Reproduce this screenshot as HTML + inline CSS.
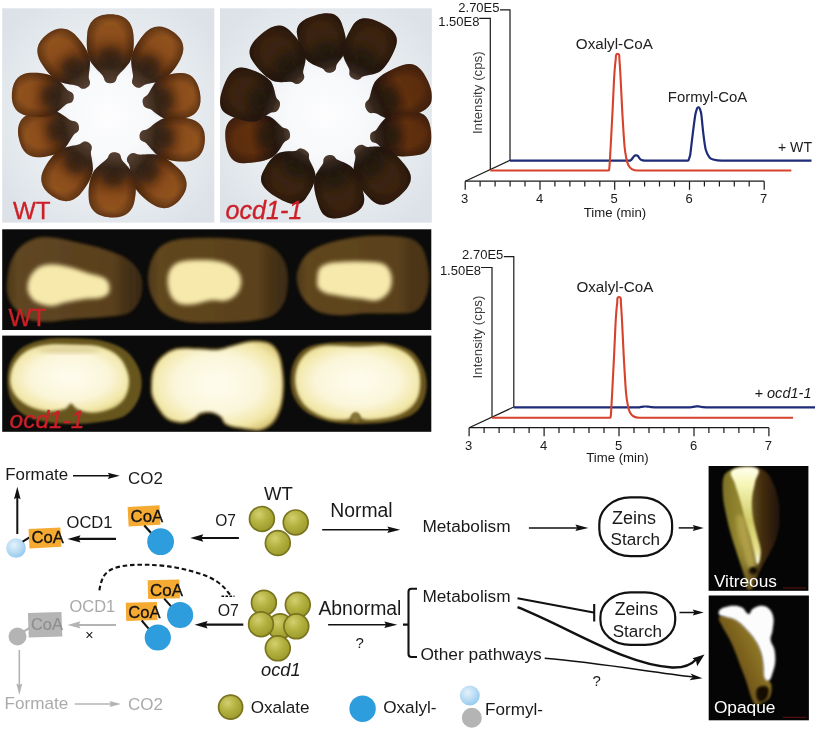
<!DOCTYPE html>
<html><head><meta charset="utf-8"><title>ocd1 figure</title>
<style>
html,body{margin:0;padding:0;background:#fff;}
svg{display:block;font-family:"Liberation Sans", Arial, sans-serif;}
</style></head><body>
<svg width="815" height="730" viewBox="0 0 815 730">
<defs>
<filter id="b1" x="-20%" y="-20%" width="140%" height="140%"><feGaussianBlur stdDeviation="0.9"/></filter>
<filter id="b07" x="-20%" y="-20%" width="140%" height="140%"><feGaussianBlur stdDeviation="0.65"/></filter>
<filter id="b15" x="-20%" y="-20%" width="140%" height="140%"><feGaussianBlur stdDeviation="1.5"/></filter>
<filter id="b2" x="-20%" y="-20%" width="140%" height="140%"><feGaussianBlur stdDeviation="2"/></filter>
<filter id="b3" x="-30%" y="-30%" width="160%" height="160%"><feGaussianBlur stdDeviation="3.5"/></filter>
<filter id="b6" x="-40%" y="-40%" width="180%" height="180%"><feGaussianBlur stdDeviation="7"/></filter>
<radialGradient id="bgA" cx="50%" cy="50%" r="62%"><stop offset="0" stop-color="#fdfdfe"/><stop offset="0.3" stop-color="#f8f9fb"/><stop offset="0.6" stop-color="#e9edf1"/><stop offset="1" stop-color="#dce2e8"/></radialGradient>
<linearGradient id="kWT" x1="0" y1="0" x2="1" y2="0"><stop offset="0" stop-color="#8d7262"/><stop offset="0.1" stop-color="#6a5040"/><stop offset="0.25" stop-color="#4a3220"/><stop offset="0.45" stop-color="#6c3914"/><stop offset="0.7" stop-color="#8c4e1c"/><stop offset="0.9" stop-color="#91531f"/><stop offset="1" stop-color="#7a4018"/></linearGradient>
<linearGradient id="kMU" x1="0" y1="0" x2="1" y2="0"><stop offset="0" stop-color="#84705f"/><stop offset="0.1" stop-color="#4a3a30"/><stop offset="0.25" stop-color="#2a1c12"/><stop offset="0.6" stop-color="#3a2412"/><stop offset="1" stop-color="#3a2010"/></linearGradient>
<linearGradient id="kMU2" x1="0" y1="0" x2="1" y2="0"><stop offset="0" stop-color="#84705f"/><stop offset="0.1" stop-color="#4a3a30"/><stop offset="0.25" stop-color="#301c10"/><stop offset="0.6" stop-color="#60300f"/><stop offset="1" stop-color="#5a2c0e"/></linearGradient>
<radialGradient id="kShade" cx="58%" cy="50%" r="58%"><stop offset="0.5" stop-color="#000" stop-opacity="0"/><stop offset="1" stop-color="#1a0a00" stop-opacity="0.5"/></radialGradient>
<radialGradient id="gOx" cx="38%" cy="32%" r="70%"><stop offset="0" stop-color="#d3d070"/><stop offset="0.5" stop-color="#b3b13f"/><stop offset="1" stop-color="#9c9a2c"/></radialGradient>
<radialGradient id="gLb" cx="40%" cy="35%" r="70%"><stop offset="0" stop-color="#e4f1fb"/><stop offset="0.6" stop-color="#b5daf3"/><stop offset="1" stop-color="#8fc8ee"/></radialGradient>
</defs>
<rect width="815" height="730" fill="#fff"/>

<g id="panelA">
<defs><clipPath id="clA1"><rect x="2.2" y="8.3" width="212.1" height="214.3"/></clipPath><clipPath id="clA2"><rect x="220" y="8.3" width="211.8" height="214.3"/></clipPath></defs>
<rect x="2.2" y="8.3" width="212.1" height="214.3" fill="url(#bgA)"/>
<rect x="220" y="8.3" width="211.8" height="214.3" fill="url(#bgA)"/>
<g clip-path="url(#clA1)"><g filter="url(#b07)">
<g transform="translate(110.3,83.2) rotate(-90.0)"><path d="M0,0 C0.0,-3.3 1.4,-5.6 4.8,-6.3 C9.0,-7.0 11.7,-12.7 20.7,-19.3 C29.0,-23.5 38.7,-24.2 49.7,-23.0 C60.7,-21.9 69.0,-15.5 69.0,-0.0 C69.0,15.5 60.7,21.9 49.7,23.0 C38.7,24.2 29.0,23.5 20.7,19.3 C11.7,12.7 9.0,7.0 4.8,6.3 C1.4,5.6 0.0,3.3 0.0,0.0 Z" fill="url(#kWT)"/><path d="M0,0 C0.0,-3.3 1.4,-5.6 4.8,-6.3 C9.0,-7.0 11.7,-12.7 20.7,-19.3 C29.0,-23.5 38.7,-24.2 49.7,-23.0 C60.7,-21.9 69.0,-15.5 69.0,-0.0 C69.0,15.5 60.7,21.9 49.7,23.0 C38.7,24.2 29.0,23.5 20.7,19.3 C11.7,12.7 9.0,7.0 4.8,6.3 C1.4,5.6 0.0,3.3 0.0,0.0 Z" fill="url(#kShade)"/><ellipse cx="24.8" cy="0" rx="11.7" ry="12.2" fill="#1c120a" opacity="0.55" filter="url(#b3)"/></g>
<g transform="translate(134.9,86.4) rotate(-55.4)"><path d="M0,0 C0.0,-3.2 1.3,-5.4 4.7,-6.1 C8.7,-6.8 11.3,-12.2 20.0,-18.4 C28.0,-22.5 37.3,-23.2 48.0,-22.1 C58.6,-20.9 66.6,-14.9 66.6,-0.0 C66.6,14.9 58.6,20.9 48.0,22.1 C37.3,23.2 28.0,22.5 20.0,18.4 C11.3,12.2 8.7,6.8 4.7,6.1 C1.3,5.4 0.0,3.2 0.0,0.0 Z" fill="url(#kWT)"/><path d="M0,0 C0.0,-3.2 1.3,-5.4 4.7,-6.1 C8.7,-6.8 11.3,-12.2 20.0,-18.4 C28.0,-22.5 37.3,-23.2 48.0,-22.1 C58.6,-20.9 66.6,-14.9 66.6,-0.0 C66.6,14.9 58.6,20.9 48.0,22.1 C37.3,23.2 28.0,22.5 20.0,18.4 C11.3,12.2 8.7,6.8 4.7,6.1 C1.3,5.4 0.0,3.2 0.0,0.0 Z" fill="url(#kShade)"/><ellipse cx="24.0" cy="0" rx="11.3" ry="11.7" fill="#1c120a" opacity="0.55" filter="url(#b3)"/></g>
<g transform="translate(142.8,103.1) rotate(-10.9)"><path d="M0,0 C0.0,-3.2 1.2,-5.5 4.1,-6.2 C7.6,-6.9 9.9,-12.4 17.4,-18.9 C24.4,-23.0 32.5,-23.7 41.8,-22.5 C51.1,-21.4 58.1,-15.2 58.1,-0.0 C58.1,15.2 51.1,21.4 41.8,22.5 C32.5,23.7 24.4,23.0 17.4,18.9 C9.9,12.4 7.6,6.9 4.1,6.2 C1.2,5.5 0.0,3.2 0.0,0.0 Z" fill="url(#kWT)"/><path d="M0,0 C0.0,-3.2 1.2,-5.5 4.1,-6.2 C7.6,-6.9 9.9,-12.4 17.4,-18.9 C24.4,-23.0 32.5,-23.7 41.8,-22.5 C51.1,-21.4 58.1,-15.2 58.1,-0.0 C58.1,15.2 51.1,21.4 41.8,22.5 C32.5,23.7 24.4,23.0 17.4,18.9 C9.9,12.4 7.6,6.9 4.1,6.2 C1.2,5.5 0.0,3.2 0.0,0.0 Z" fill="url(#kShade)"/><ellipse cx="20.9" cy="0" rx="9.9" ry="12.0" fill="#1c120a" opacity="0.55" filter="url(#b3)"/></g>
<g transform="translate(139.6,135.5) rotate(5.5)"><path d="M0,0 C0.0,-3.1 1.3,-5.3 4.6,-5.9 C8.5,-6.6 11.1,-11.9 19.7,-18.0 C27.5,-22.0 36.7,-22.7 47.2,-21.6 C57.7,-20.5 65.5,-14.5 65.5,-0.0 C65.5,14.5 57.7,20.5 47.2,21.6 C36.7,22.7 27.5,22.0 19.7,18.0 C11.1,11.9 8.5,6.6 4.6,5.9 C1.3,5.3 0.0,3.1 0.0,0.0 Z" fill="url(#kWT)"/><path d="M0,0 C0.0,-3.1 1.3,-5.3 4.6,-5.9 C8.5,-6.6 11.1,-11.9 19.7,-18.0 C27.5,-22.0 36.7,-22.7 47.2,-21.6 C57.7,-20.5 65.5,-14.5 65.5,-0.0 C65.5,14.5 57.7,20.5 47.2,21.6 C36.7,22.7 27.5,22.0 19.7,18.0 C11.1,11.9 8.5,6.6 4.6,5.9 C1.3,5.3 0.0,3.1 0.0,0.0 Z" fill="url(#kShade)"/><ellipse cx="23.6" cy="0" rx="11.1" ry="11.4" fill="#1c120a" opacity="0.55" filter="url(#b3)"/></g>
<g transform="translate(128.6,155.4) rotate(40.3)"><path d="M0,0 C0.0,-3.2 1.4,-5.4 4.7,-6.1 C8.8,-6.8 11.5,-12.2 20.3,-18.4 C28.5,-22.5 37.9,-23.2 48.8,-22.1 C59.6,-20.9 67.8,-14.9 67.8,-0.0 C67.8,14.9 59.6,20.9 48.8,22.1 C37.9,23.2 28.5,22.5 20.3,18.4 C11.5,12.2 8.8,6.8 4.7,6.1 C1.4,5.4 0.0,3.2 0.0,0.0 Z" fill="url(#kWT)"/><path d="M0,0 C0.0,-3.2 1.4,-5.4 4.7,-6.1 C8.8,-6.8 11.5,-12.2 20.3,-18.4 C28.5,-22.5 37.9,-23.2 48.8,-22.1 C59.6,-20.9 67.8,-14.9 67.8,-0.0 C67.8,14.9 59.6,20.9 48.8,22.1 C37.9,23.2 28.5,22.5 20.3,18.4 C11.5,12.2 8.8,6.8 4.7,6.1 C1.4,5.4 0.0,3.2 0.0,0.0 Z" fill="url(#kShade)"/><ellipse cx="24.4" cy="0" rx="11.5" ry="11.7" fill="#1c120a" opacity="0.55" filter="url(#b3)"/></g>
<g transform="translate(115.0,152.2) rotate(94.1)"><path d="M0,0 C0.0,-3.3 1.3,-5.6 4.6,-6.3 C8.5,-7.0 11.1,-12.7 19.6,-19.3 C27.5,-23.5 36.6,-24.2 47.1,-23.0 C57.6,-21.9 65.4,-15.5 65.4,-0.0 C65.4,15.5 57.6,21.9 47.1,23.0 C36.6,24.2 27.5,23.5 19.6,19.3 C11.1,12.7 8.5,7.0 4.6,6.3 C1.3,5.6 0.0,3.3 0.0,0.0 Z" fill="url(#kWT)"/><path d="M0,0 C0.0,-3.3 1.3,-5.6 4.6,-6.3 C8.5,-7.0 11.1,-12.7 19.6,-19.3 C27.5,-23.5 36.6,-24.2 47.1,-23.0 C57.6,-21.9 65.4,-15.5 65.4,-0.0 C65.4,15.5 57.6,21.9 47.1,23.0 C36.6,24.2 27.5,23.5 19.6,19.3 C11.1,12.7 8.5,7.0 4.6,6.3 C1.3,5.6 0.0,3.3 0.0,0.0 Z" fill="url(#kShade)"/><ellipse cx="23.5" cy="0" rx="11.1" ry="12.2" fill="#1c120a" opacity="0.55" filter="url(#b3)"/></g>
<g transform="translate(88.9,142.8) rotate(124.7)"><path d="M0,0 C0.0,-3.2 1.3,-5.4 4.5,-6.1 C8.4,-6.8 11.0,-12.2 19.4,-18.4 C27.2,-22.5 36.3,-23.2 46.6,-22.1 C57.0,-20.9 64.8,-14.9 64.8,-0.0 C64.8,14.9 57.0,20.9 46.6,22.1 C36.3,23.2 27.2,22.5 19.4,18.4 C11.0,12.2 8.4,6.8 4.5,6.1 C1.3,5.4 0.0,3.2 0.0,0.0 Z" fill="url(#kWT)"/><path d="M0,0 C0.0,-3.2 1.3,-5.4 4.5,-6.1 C8.4,-6.8 11.0,-12.2 19.4,-18.4 C27.2,-22.5 36.3,-23.2 46.6,-22.1 C57.0,-20.9 64.8,-14.9 64.8,-0.0 C64.8,14.9 57.0,20.9 46.6,22.1 C36.3,23.2 27.2,22.5 19.4,18.4 C11.0,12.2 8.4,6.8 4.5,6.1 C1.3,5.4 0.0,3.2 0.0,0.0 Z" fill="url(#kShade)"/><ellipse cx="23.3" cy="0" rx="11.0" ry="11.7" fill="#1c120a" opacity="0.55" filter="url(#b3)"/></g>
<g transform="translate(78.8,126.1) rotate(168.1)"><path d="M0,0 C0.0,-3.2 1.2,-5.5 4.3,-6.2 C8.0,-6.9 10.4,-12.4 18.4,-18.9 C25.7,-23.0 34.3,-23.7 44.1,-22.5 C53.8,-21.4 61.2,-15.2 61.2,-0.0 C61.2,15.2 53.8,21.4 44.1,22.5 C34.3,23.7 25.7,23.0 18.4,18.9 C10.4,12.4 8.0,6.9 4.3,6.2 C1.2,5.5 0.0,3.2 0.0,0.0 Z" fill="url(#kWT)"/><path d="M0,0 C0.0,-3.2 1.2,-5.5 4.3,-6.2 C8.0,-6.9 10.4,-12.4 18.4,-18.9 C25.7,-23.0 34.3,-23.7 44.1,-22.5 C53.8,-21.4 61.2,-15.2 61.2,-0.0 C61.2,15.2 53.8,21.4 44.1,22.5 C34.3,23.7 25.7,23.0 18.4,18.9 C10.4,12.4 8.0,6.9 4.3,6.2 C1.2,5.5 0.0,3.2 0.0,0.0 Z" fill="url(#kShade)"/><ellipse cx="22.0" cy="0" rx="10.4" ry="12.0" fill="#1c120a" opacity="0.55" filter="url(#b3)"/></g>
<g transform="translate(73.7,97.7) rotate(-175.6)"><path d="M0,0 C0.0,-3.1 1.2,-5.3 4.3,-5.9 C8.1,-6.6 10.5,-11.9 18.6,-18.0 C26.0,-22.0 34.7,-22.7 44.6,-21.6 C54.5,-20.5 62.0,-14.5 62.0,-0.0 C62.0,14.5 54.5,20.5 44.6,21.6 C34.7,22.7 26.0,22.0 18.6,18.0 C10.5,11.9 8.1,6.6 4.3,5.9 C1.2,5.3 0.0,3.1 0.0,0.0 Z" fill="url(#kWT)"/><path d="M0,0 C0.0,-3.1 1.2,-5.3 4.3,-5.9 C8.1,-6.6 10.5,-11.9 18.6,-18.0 C26.0,-22.0 34.7,-22.7 44.6,-21.6 C54.5,-20.5 62.0,-14.5 62.0,-0.0 C62.0,14.5 54.5,20.5 44.6,21.6 C34.7,22.7 26.0,22.0 18.6,18.0 C10.5,11.9 8.1,6.6 4.3,5.9 C1.2,5.3 0.0,3.1 0.0,0.0 Z" fill="url(#kShade)"/><ellipse cx="22.3" cy="0" rx="10.5" ry="11.4" fill="#1c120a" opacity="0.55" filter="url(#b3)"/></g>
<g transform="translate(87.3,87.3) rotate(-126.9)"><path d="M0,0 C0.0,-3.2 1.3,-5.4 4.7,-6.1 C8.7,-6.8 11.3,-12.2 20.0,-18.4 C28.0,-22.5 37.3,-23.2 48.0,-22.1 C58.6,-20.9 66.6,-14.9 66.6,-0.0 C66.6,14.9 58.6,20.9 48.0,22.1 C37.3,23.2 28.0,22.5 20.0,18.4 C11.3,12.2 8.7,6.8 4.7,6.1 C1.3,5.4 0.0,3.2 0.0,0.0 Z" fill="url(#kWT)"/><path d="M0,0 C0.0,-3.2 1.3,-5.4 4.7,-6.1 C8.7,-6.8 11.3,-12.2 20.0,-18.4 C28.0,-22.5 37.3,-23.2 48.0,-22.1 C58.6,-20.9 66.6,-14.9 66.6,-0.0 C66.6,14.9 58.6,20.9 48.0,22.1 C37.3,23.2 28.0,22.5 20.0,18.4 C11.3,12.2 8.7,6.8 4.7,6.1 C1.3,5.4 0.0,3.2 0.0,0.0 Z" fill="url(#kShade)"/><ellipse cx="24.0" cy="0" rx="11.3" ry="11.7" fill="#1c120a" opacity="0.55" filter="url(#b3)"/></g>
</g></g>
<g clip-path="url(#clA2)"><g filter="url(#b07)">
<g transform="translate(331.3,72.5) rotate(-105.4)"><path d="M0,0 C0.0,-3.2 1.2,-5.5 4.2,-6.2 C7.7,-6.9 9.5,-13.8 16.7,-19.3 C23.8,-23.5 34.5,-23.9 45.2,-23.0 C54.7,-22.1 59.5,-15.6 59.5,-0.0 C59.5,15.6 54.7,22.1 45.2,23.0 C34.5,23.9 23.8,23.5 16.7,19.3 C9.5,13.8 7.7,6.9 4.2,6.2 C1.2,5.5 0.0,3.2 0.0,0.0 Z" fill="url(#kMU)"/><path d="M0,0 C0.0,-3.2 1.2,-5.5 4.2,-6.2 C7.7,-6.9 9.5,-13.8 16.7,-19.3 C23.8,-23.5 34.5,-23.9 45.2,-23.0 C54.7,-22.1 59.5,-15.6 59.5,-0.0 C59.5,15.6 54.7,22.1 45.2,23.0 C34.5,23.9 23.8,23.5 16.7,19.3 C9.5,13.8 7.7,6.9 4.2,6.2 C1.2,5.5 0.0,3.2 0.0,0.0 Z" fill="url(#kShade)"/><ellipse cx="21.4" cy="0" rx="10.1" ry="12.0" fill="#1c120a" opacity="0.55" filter="url(#b3)"/></g>
<g transform="translate(353.4,78.8) rotate(-64.0)"><path d="M0,0 C0.0,-3.4 1.2,-5.8 4.4,-6.5 C8.1,-7.2 10.0,-14.4 17.5,-20.2 C25.0,-24.5 36.2,-25.0 47.4,-24.0 C57.4,-23.0 62.4,-16.3 62.4,-0.0 C62.4,16.3 57.4,23.0 47.4,24.0 C36.2,25.0 25.0,24.5 17.5,20.2 C10.0,14.4 8.1,7.2 4.4,6.5 C1.2,5.8 0.0,3.4 0.0,0.0 Z" fill="url(#kMU)"/><path d="M0,0 C0.0,-3.4 1.2,-5.8 4.4,-6.5 C8.1,-7.2 10.0,-14.4 17.5,-20.2 C25.0,-24.5 36.2,-25.0 47.4,-24.0 C57.4,-23.0 62.4,-16.3 62.4,-0.0 C62.4,16.3 57.4,23.0 47.4,24.0 C36.2,25.0 25.0,24.5 17.5,20.2 C10.0,14.4 8.1,7.2 4.4,6.5 C1.2,5.8 0.0,3.4 0.0,0.0 Z" fill="url(#kShade)"/><ellipse cx="22.5" cy="0" rx="10.6" ry="12.5" fill="#1c120a" opacity="0.55" filter="url(#b3)"/></g>
<g transform="translate(366.0,108.7) rotate(-23.8)"><path d="M0,0 C0.0,-3.5 1.4,-6.0 4.7,-6.8 C8.8,-7.5 10.9,-15.0 19.0,-21.0 C27.1,-25.5 39.4,-26.0 51.6,-25.0 C62.4,-24.0 67.8,-17.0 67.8,-0.0 C67.8,17.0 62.4,24.0 51.6,25.0 C39.4,26.0 27.1,25.5 19.0,21.0 C10.9,15.0 8.8,7.5 4.7,6.8 C1.4,6.0 0.0,3.5 0.0,0.0 Z" fill="url(#kMU2)"/><path d="M0,0 C0.0,-3.5 1.4,-6.0 4.7,-6.8 C8.8,-7.5 10.9,-15.0 19.0,-21.0 C27.1,-25.5 39.4,-26.0 51.6,-25.0 C62.4,-24.0 67.8,-17.0 67.8,-0.0 C67.8,17.0 62.4,24.0 51.6,25.0 C39.4,26.0 27.1,25.5 19.0,21.0 C10.9,15.0 8.8,7.5 4.7,6.8 C1.4,6.0 0.0,3.5 0.0,0.0 Z" fill="url(#kShade)"/><ellipse cx="24.4" cy="0" rx="11.5" ry="13.0" fill="#1c120a" opacity="0.55" filter="url(#b3)"/></g>
<g transform="translate(370.1,137.4) rotate(-4.7)"><path d="M0,0 C0.0,-3.0 1.2,-5.2 4.3,-5.8 C8.0,-6.5 9.8,-12.9 17.2,-18.1 C24.5,-21.9 35.6,-22.4 46.6,-21.5 C56.4,-20.6 61.3,-14.6 61.3,-0.0 C61.3,14.6 56.4,20.6 46.6,21.5 C35.6,22.4 24.5,21.9 17.2,18.1 C9.8,12.9 8.0,6.5 4.3,5.8 C1.2,5.2 0.0,3.0 0.0,0.0 Z" fill="url(#kMU2)"/><path d="M0,0 C0.0,-3.0 1.2,-5.2 4.3,-5.8 C8.0,-6.5 9.8,-12.9 17.2,-18.1 C24.5,-21.9 35.6,-22.4 46.6,-21.5 C56.4,-20.6 61.3,-14.6 61.3,-0.0 C61.3,14.6 56.4,20.6 46.6,21.5 C35.6,22.4 24.5,21.9 17.2,18.1 C9.8,12.9 8.0,6.5 4.3,5.8 C1.2,5.2 0.0,3.0 0.0,0.0 Z" fill="url(#kShade)"/><ellipse cx="22.1" cy="0" rx="10.4" ry="11.2" fill="#1c120a" opacity="0.55" filter="url(#b3)"/></g>
<g transform="translate(356.8,146.8) rotate(48.9)"><path d="M0,0 C0.0,-3.4 1.3,-5.8 4.6,-6.5 C8.5,-7.2 10.4,-14.4 18.3,-20.2 C26.1,-24.5 37.8,-25.0 49.6,-24.0 C60.0,-23.0 65.2,-16.3 65.2,-0.0 C65.2,16.3 60.0,23.0 49.6,24.0 C37.8,25.0 26.1,24.5 18.3,20.2 C10.4,14.4 8.5,7.2 4.6,6.5 C1.3,5.8 0.0,3.4 0.0,0.0 Z" fill="url(#kMU)"/><path d="M0,0 C0.0,-3.4 1.3,-5.8 4.6,-6.5 C8.5,-7.2 10.4,-14.4 18.3,-20.2 C26.1,-24.5 37.8,-25.0 49.6,-24.0 C60.0,-23.0 65.2,-16.3 65.2,-0.0 C65.2,16.3 60.0,23.0 49.6,24.0 C37.8,25.0 26.1,24.5 18.3,20.2 C10.4,14.4 8.5,7.2 4.6,6.5 C1.3,5.8 0.0,3.4 0.0,0.0 Z" fill="url(#kShade)"/><ellipse cx="23.5" cy="0" rx="11.1" ry="12.5" fill="#1c120a" opacity="0.55" filter="url(#b3)"/></g>
<g transform="translate(328.1,155.3) rotate(73.6)"><path d="M0,0 C0.0,-3.2 1.3,-5.5 4.5,-6.2 C8.3,-6.9 10.2,-13.8 17.8,-19.3 C25.5,-23.5 36.9,-23.9 48.4,-23.0 C58.6,-22.1 63.7,-15.6 63.7,-0.0 C63.7,15.6 58.6,22.1 48.4,23.0 C36.9,23.9 25.5,23.5 17.8,19.3 C10.2,13.8 8.3,6.9 4.5,6.2 C1.3,5.5 0.0,3.2 0.0,0.0 Z" fill="url(#kMU)"/><path d="M0,0 C0.0,-3.2 1.3,-5.5 4.5,-6.2 C8.3,-6.9 10.2,-13.8 17.8,-19.3 C25.5,-23.5 36.9,-23.9 48.4,-23.0 C58.6,-22.1 63.7,-15.6 63.7,-0.0 C63.7,15.6 58.6,22.1 48.4,23.0 C36.9,23.9 25.5,23.5 17.8,19.3 C10.2,13.8 8.3,6.9 4.5,6.2 C1.3,5.5 0.0,3.2 0.0,0.0 Z" fill="url(#kShade)"/><ellipse cx="22.9" cy="0" rx="10.8" ry="12.0" fill="#1c120a" opacity="0.55" filter="url(#b3)"/></g>
<g transform="translate(305.1,150.0) rotate(120.5)"><path d="M0,0 C0.0,-3.5 1.1,-6.0 3.9,-6.8 C7.2,-7.5 8.8,-15.0 15.5,-21.0 C22.1,-25.5 32.0,-26.0 42.0,-25.0 C50.8,-24.0 55.2,-17.0 55.2,-0.0 C55.2,17.0 50.8,24.0 42.0,25.0 C32.0,26.0 22.1,25.5 15.5,21.0 C8.8,15.0 7.2,7.5 3.9,6.8 C1.1,6.0 0.0,3.5 0.0,0.0 Z" fill="url(#kMU)"/><path d="M0,0 C0.0,-3.5 1.1,-6.0 3.9,-6.8 C7.2,-7.5 8.8,-15.0 15.5,-21.0 C22.1,-25.5 32.0,-26.0 42.0,-25.0 C50.8,-24.0 55.2,-17.0 55.2,-0.0 C55.2,17.0 50.8,24.0 42.0,25.0 C32.0,26.0 22.1,25.5 15.5,21.0 C8.8,15.0 7.2,7.5 3.9,6.8 C1.1,6.0 0.0,3.5 0.0,0.0 Z" fill="url(#kShade)"/><ellipse cx="19.9" cy="0" rx="9.4" ry="13.0" fill="#1c120a" opacity="0.55" filter="url(#b3)"/></g>
<g transform="translate(290.0,133.9) rotate(173.0)"><path d="M0,0 C0.0,-3.3 1.3,-5.6 4.5,-6.3 C8.4,-7.0 10.4,-14.1 18.1,-19.7 C25.9,-24.0 37.6,-24.4 49.2,-23.5 C59.6,-22.6 64.8,-16.0 64.8,-0.0 C64.8,16.0 59.6,22.6 49.2,23.5 C37.6,24.4 25.9,24.0 18.1,19.7 C10.4,14.1 8.4,7.0 4.5,6.3 C1.3,5.6 0.0,3.3 0.0,0.0 Z" fill="url(#kMU2)"/><path d="M0,0 C0.0,-3.3 1.3,-5.6 4.5,-6.3 C8.4,-7.0 10.4,-14.1 18.1,-19.7 C25.9,-24.0 37.6,-24.4 49.2,-23.5 C59.6,-22.6 64.8,-16.0 64.8,-0.0 C64.8,16.0 59.6,22.6 49.2,23.5 C37.6,24.4 25.9,24.0 18.1,19.7 C10.4,14.1 8.4,7.0 4.5,6.3 C1.3,5.6 0.0,3.3 0.0,0.0 Z" fill="url(#kShade)"/><ellipse cx="23.3" cy="0" rx="11.0" ry="12.2" fill="#1c120a" opacity="0.55" filter="url(#b3)"/></g>
<g transform="translate(279.3,107.4) rotate(-159.3)"><path d="M0,0 C0.0,-3.5 1.2,-6.0 4.2,-6.8 C7.8,-7.5 9.5,-15.0 16.7,-21.0 C23.9,-25.5 34.6,-26.0 45.3,-25.0 C54.9,-24.0 59.6,-17.0 59.6,-0.0 C59.6,17.0 54.9,24.0 45.3,25.0 C34.6,26.0 23.9,25.5 16.7,21.0 C9.5,15.0 7.8,7.5 4.2,6.8 C1.2,6.0 0.0,3.5 0.0,0.0 Z" fill="url(#kMU)"/><path d="M0,0 C0.0,-3.5 1.2,-6.0 4.2,-6.8 C7.8,-7.5 9.5,-15.0 16.7,-21.0 C23.9,-25.5 34.6,-26.0 45.3,-25.0 C54.9,-24.0 59.6,-17.0 59.6,-0.0 C59.6,17.0 54.9,24.0 45.3,25.0 C34.6,26.0 23.9,25.5 16.7,21.0 C9.5,15.0 7.8,7.5 4.2,6.8 C1.2,6.0 0.0,3.5 0.0,0.0 Z" fill="url(#kShade)"/><ellipse cx="21.5" cy="0" rx="10.1" ry="13.0" fill="#1c120a" opacity="0.55" filter="url(#b3)"/></g>
<g transform="translate(301.4,81.9) rotate(-129.9)"><path d="M0,0 C0.0,-3.4 1.2,-5.8 4.4,-6.5 C8.1,-7.2 10.0,-14.4 17.5,-20.2 C25.0,-24.5 36.2,-25.0 47.4,-24.0 C57.4,-23.0 62.4,-16.3 62.4,-0.0 C62.4,16.3 57.4,23.0 47.4,24.0 C36.2,25.0 25.0,24.5 17.5,20.2 C10.0,14.4 8.1,7.2 4.4,6.5 C1.2,5.8 0.0,3.4 0.0,0.0 Z" fill="url(#kMU)"/><path d="M0,0 C0.0,-3.4 1.2,-5.8 4.4,-6.5 C8.1,-7.2 10.0,-14.4 17.5,-20.2 C25.0,-24.5 36.2,-25.0 47.4,-24.0 C57.4,-23.0 62.4,-16.3 62.4,-0.0 C62.4,16.3 57.4,23.0 47.4,24.0 C36.2,25.0 25.0,24.5 17.5,20.2 C10.0,14.4 8.1,7.2 4.4,6.5 C1.2,5.8 0.0,3.4 0.0,0.0 Z" fill="url(#kShade)"/><ellipse cx="22.5" cy="0" rx="10.6" ry="12.5" fill="#1c120a" opacity="0.55" filter="url(#b3)"/></g>
</g></g>
<text x="13" y="218.5" font-size="24" fill="#cc2029" stroke="#cc2029" stroke-width="0.35" textLength="37.5" lengthAdjust="spacingAndGlyphs">WT</text>
<text x="225.5" y="218.5" font-size="25" font-style="italic" fill="#cc2029" stroke="#cc2029" stroke-width="0.35" textLength="77" lengthAdjust="spacingAndGlyphs">ocd1-1</text>
</g>
<g id="panelB">
<defs><clipPath id="clB1"><rect x="2.2" y="229.3" width="429.1" height="100.7"/></clipPath><clipPath id="clB2"><rect x="2.2" y="335.6" width="429.1" height="96.2"/></clipPath></defs>
<rect x="2.2" y="229.3" width="429.1" height="100.7" fill="#0b0b0b"/>
<rect x="2.2" y="335.6" width="429.1" height="96.2" fill="#0b0b0b"/>
<defs>
<linearGradient id="cw1" gradientUnits="userSpaceOnUse" x1="7" y1="0" x2="142" y2="0"><stop offset="0" stop-color="#4e3a1a"/><stop offset="0.08" stop-color="#5f4622"/><stop offset="0.78" stop-color="#5a411e"/><stop offset="0.88" stop-color="#453116"/><stop offset="1" stop-color="#3a2a12"/></linearGradient>
<linearGradient id="cw2" gradientUnits="userSpaceOnUse" x1="148" y1="0" x2="288" y2="0"><stop offset="0" stop-color="#4e3a1a"/><stop offset="0.08" stop-color="#60461f"/><stop offset="0.78" stop-color="#5b421d"/><stop offset="0.88" stop-color="#473215"/><stop offset="1" stop-color="#3c2b12"/></linearGradient>
<linearGradient id="cw3" gradientUnits="userSpaceOnUse" x1="296" y1="0" x2="429" y2="0"><stop offset="0" stop-color="#4e3a1a"/><stop offset="0.08" stop-color="#60461f"/><stop offset="0.76" stop-color="#5b421d"/><stop offset="0.86" stop-color="#4c3617"/><stop offset="1" stop-color="#4a3616"/></linearGradient>
<radialGradient id="cm" cx="50%" cy="48%" r="60%"><stop offset="0" stop-color="#fefcee"/><stop offset="0.55" stop-color="#fbf6da"/><stop offset="0.85" stop-color="#f1e6a6"/><stop offset="1" stop-color="#d9c879"/></radialGradient>
</defs>
<g clip-path="url(#clB1)">
<g filter="url(#b1)">
<path d="M7.4,280.2 C8.0,275.0 8.9,267.3 11.0,261.8 C13.2,256.3 16.0,251.1 20.2,247.1 C24.5,243.1 31.0,239.4 36.8,237.9 C42.6,236.4 48.5,237.1 55.2,237.9 C62.0,238.7 69.3,240.6 77.3,242.5 C85.3,244.3 95.1,246.3 103.1,248.9 C111.0,251.5 119.3,254.4 125.2,258.1 C131.0,261.8 135.3,266.4 138.0,271.0 C140.8,275.6 141.7,280.5 141.7,285.7 C141.7,291.0 140.5,297.7 138.0,302.3 C135.6,306.9 132.8,310.9 127.0,313.3 C121.2,315.8 112.0,316.1 103.1,317.0 C94.2,318.0 82.8,318.1 73.6,318.9 C64.4,319.6 55.5,321.6 47.9,321.6 C40.2,321.6 33.4,321.5 27.6,318.9 C21.8,316.3 16.3,310.3 12.9,306.0 C9.5,301.7 8.3,297.4 7.4,293.1 C6.4,288.8 6.7,285.4 7.4,280.2 Z" fill="url(#cw1)" stroke="#3b2a12" stroke-opacity="0.55" stroke-width="2.6"/>
<path d="M148.3,280.2 C148.0,274.1 149.0,267.3 151.0,261.8 C153.0,256.3 156.0,250.8 160.2,247.1 C164.5,243.4 169.4,241.3 176.8,239.7 C184.2,238.2 195.2,238.0 204.4,237.9 C213.6,237.7 222.8,238.0 232.0,238.8 C241.2,239.6 252.3,240.5 259.6,242.5 C267.0,244.5 271.9,246.9 276.2,250.8 C280.5,254.6 283.6,260.0 285.4,265.5 C287.2,271.0 287.6,277.8 287.2,283.9 C286.9,290.0 286.0,297.1 283.6,302.3 C281.1,307.5 278.0,312.1 272.5,315.2 C267.0,318.3 260.3,319.5 250.4,320.7 C240.6,321.9 224.4,322.4 213.6,322.6 C202.9,322.7 194.3,323.2 186.0,321.6 C177.7,320.1 169.4,317.2 163.9,313.3 C158.4,309.5 155.5,304.1 152.9,298.6 C150.3,293.1 148.6,286.4 148.3,280.2 Z" fill="url(#cw2)" stroke="#3b2a12" stroke-opacity="0.55" stroke-width="2.6"/>
<path d="M297.0,280.2 C296.4,274.7 297.7,270.1 299.7,265.5 C301.7,260.9 304.3,256.3 308.9,252.6 C313.5,248.9 319.1,246.0 327.3,243.4 C335.6,240.8 348.5,238.2 358.6,237.0 C368.7,235.7 379.5,235.7 388.1,236.0 C396.7,236.4 404.6,237.0 410.2,238.8 C415.7,240.6 418.4,243.3 421.2,247.1 C424.0,250.9 425.5,256.3 426.7,261.8 C428.0,267.3 428.9,274.1 428.6,280.2 C428.3,286.4 427.3,293.4 424.9,298.6 C422.4,303.8 420.0,309.1 413.8,311.5 C407.7,314.0 396.4,313.0 388.1,313.3 C379.8,313.7 372.1,313.0 364.1,313.3 C356.2,313.7 347.9,315.5 340.2,315.2 C332.5,314.9 324.3,314.3 318.1,311.5 C312.0,308.7 306.9,303.8 303.4,298.6 C299.9,293.4 297.6,285.7 297.0,280.2 Z" fill="url(#cw3)" stroke="#3b2a12" stroke-opacity="0.55" stroke-width="2.6"/>
</g>
<g filter="url(#b2)" fill="#f6e9ab">
<path d="M27.6,285.7 C27.9,282.4 29.1,277.9 31.3,274.7 C33.4,271.5 36.5,268.1 40.5,266.4 C44.5,264.7 49.7,264.3 55.2,264.6 C60.7,264.9 68.1,266.8 73.6,268.3 C79.1,269.7 83.4,271.7 88.3,273.2 C93.3,274.8 99.6,275.7 103.1,277.5 C106.5,279.2 108.0,281.3 109.0,283.9 C109.9,286.5 109.9,290.8 108.6,293.1 C107.3,295.4 105.2,296.7 101.2,297.7 C97.2,298.7 90.5,298.2 84.7,299.0 C78.8,299.8 71.8,301.1 66.3,302.3 C60.7,303.5 56.4,306.0 51.5,306.0 C46.6,306.0 40.5,304.1 36.8,302.3 C33.1,300.5 31.0,297.7 29.4,294.9 C27.9,292.2 27.3,289.1 27.6,285.7 Z"/>
<path d="M167.6,282.1 C167.5,277.5 168.2,272.5 170.4,269.2 C172.5,265.8 175.4,263.3 180.5,261.8 C185.6,260.3 194.0,260.0 200.7,260.0 C207.5,260.0 215.2,260.3 221.0,261.8 C226.8,263.3 232.3,266.1 235.7,269.2 C239.1,272.2 240.9,276.2 241.2,280.2 C241.5,284.2 240.0,289.7 237.6,293.1 C235.1,296.5 231.1,299.2 226.5,300.5 C221.9,301.7 215.2,299.9 209.9,300.5 C204.7,301.1 200.1,303.5 195.2,304.1 C190.3,304.8 184.5,305.4 180.5,304.1 C176.5,302.9 173.4,300.5 171.3,296.8 C169.1,293.1 167.8,286.7 167.6,282.1 Z"/>
<path d="M317.2,280.2 C317.4,277.2 317.4,271.9 319.1,269.2 C320.7,266.4 322.9,264.9 327.3,263.7 C331.8,262.4 339.3,262.1 345.7,261.8 C352.2,261.5 359.9,261.5 366.0,261.8 C372.1,262.1 378.6,262.1 382.6,263.7 C386.5,265.2 388.4,267.9 389.9,271.0 C391.4,274.1 392.1,278.4 391.8,282.1 C391.4,285.7 390.5,290.0 388.1,293.1 C385.6,296.2 381.9,299.5 377.0,300.5 C372.1,301.4 364.8,299.4 358.6,298.6 C352.5,297.9 345.7,296.8 340.2,295.9 C334.7,294.9 329.2,294.5 325.5,293.1 C321.8,291.7 319.5,289.7 318.1,287.6 C316.8,285.4 317.1,283.3 317.2,280.2 Z"/>
</g>
</g>
<g clip-path="url(#clB2)">
<g filter="url(#b1)">
<path d="M7.4,379.7 C7.4,373.3 8.3,366.8 11.0,361.3 C13.8,355.8 18.1,350.2 23.9,346.6 C29.8,342.9 37.7,340.6 46.0,339.2 C54.3,337.8 64.1,338.0 73.6,338.3 C83.1,338.6 94.5,339.0 103.1,341.0 C111.7,343.0 119.3,346.0 125.2,350.2 C131.0,354.5 135.3,361.0 138.0,366.8 C140.8,372.6 142.0,379.1 141.7,385.2 C141.4,391.4 139.3,398.4 136.2,403.6 C133.1,408.8 129.5,413.4 123.3,416.5 C117.2,419.6 107.7,420.8 99.4,422.0 C91.1,423.3 82.5,423.9 73.6,423.9 C64.7,423.9 54.3,423.6 46.0,422.0 C37.7,420.5 29.8,418.3 23.9,414.7 C18.1,411.0 13.8,405.8 11.0,399.9 C8.3,394.1 7.4,386.1 7.4,379.7 Z" fill="#66541f"/>
<path d="M150.1,385.2 C150.3,380.7 150.2,374.4 152.0,369.6 C153.7,364.7 156.6,359.8 160.6,356.1 C164.6,352.5 169.5,349.0 175.9,347.5 C182.3,346.0 192.0,346.9 198.9,346.9 C205.8,347.0 211.8,348.1 217.3,347.7 C222.8,347.2 226.5,345.6 232.0,344.4 C237.6,343.1 244.1,340.5 250.4,340.1 C256.7,339.7 264.9,339.8 269.8,342.0 C274.7,344.1 277.5,348.3 279.9,353.0 C282.2,357.8 283.1,364.5 283.9,370.5 C284.8,376.5 285.2,382.6 284.9,388.9 C284.5,395.2 283.8,402.5 282.1,408.2 C280.3,414.0 278.0,419.7 274.4,423.5 C270.8,427.3 266.1,430.2 260.6,431.2 C255.0,432.3 247.1,430.7 241.2,429.8 C235.4,428.8 229.1,427.6 225.6,425.7 C222.1,423.8 222.4,420.3 220.1,418.3 C217.8,416.4 214.9,414.7 211.8,414.1 C208.7,413.6 204.6,414.0 201.7,415.0 C198.7,416.1 197.5,419.0 194.3,420.6 C191.1,422.1 186.9,424.3 182.3,424.2 C177.7,424.2 170.9,422.8 166.7,420.2 C162.5,417.6 159.5,412.7 156.9,408.8 C154.3,404.9 152.2,400.6 151.0,396.6 C149.9,392.7 150.0,389.7 150.1,385.2 Z" fill="#4a3a14"/>
<path d="M290.5,379.7 C290.5,373.6 291.7,366.5 294.2,361.3 C296.7,356.1 300.0,351.5 305.2,348.4 C310.5,345.3 316.6,344.0 325.5,342.9 C334.4,341.8 348.2,342.0 358.6,342.0 C369.1,342.0 379.5,341.5 388.1,342.9 C396.7,344.3 404.5,346.6 410.2,350.2 C415.8,353.9 419.4,359.4 422.1,365.0 C424.9,370.5 426.6,377.2 426.7,383.4 C426.9,389.5 425.5,396.6 423.0,401.8 C420.6,407.0 417.8,411.3 412.0,414.7 C406.2,418.0 397.0,420.5 388.1,422.0 C379.2,423.6 368.1,423.9 358.6,423.9 C349.1,423.9 339.6,423.9 331.0,422.0 C322.4,420.2 313.2,416.8 307.1,412.8 C301.0,408.8 297.0,403.6 294.2,398.1 C291.4,392.6 290.5,385.8 290.5,379.7 Z" fill="#66531f"/>
</g>
<g filter="url(#b15)">
<path d="M10.1,379.7 C10.1,374.5 11.8,368.0 14.7,363.1 C17.6,358.2 22.1,353.3 27.6,350.2 C33.1,347.2 40.2,345.6 47.9,344.7 C55.5,343.8 65.0,344.4 73.6,344.7 C82.2,345.0 92.0,344.7 99.4,346.6 C106.8,348.4 113.2,351.8 117.8,355.8 C122.4,359.8 125.2,365.6 127.0,370.5 C128.8,375.4 129.5,380.3 128.8,385.2 C128.2,390.1 126.4,396.0 123.3,399.9 C120.3,403.9 115.7,407.0 110.4,409.1 C105.2,411.3 97.6,412.8 92.0,412.8 C86.5,412.8 80.8,410.7 77.3,409.1 C73.8,407.6 73.0,403.6 70.9,403.6 C68.7,403.6 68.6,407.9 64.4,409.1 C60.3,410.4 52.2,411.6 46.0,411.0 C39.9,410.4 32.8,408.2 27.6,405.5 C22.4,402.7 17.6,398.7 14.7,394.4 C11.8,390.1 10.1,384.9 10.1,379.7 Z" fill="url(#cm)"/>
<path d="M152.0,385.2 C152.1,380.9 152.1,375.1 153.8,370.5 C155.5,365.9 158.3,361.1 162.1,357.6 C165.9,354.1 170.7,350.7 176.8,349.3 C182.9,347.9 192.2,349.2 198.9,349.3 C205.6,349.5 211.8,350.7 217.3,350.2 C222.8,349.8 226.5,347.9 232.0,346.6 C237.6,345.2 244.3,342.4 250.4,342.0 C256.6,341.5 264.2,341.8 268.8,343.8 C273.4,345.8 275.9,349.5 278.0,353.9 C280.2,358.4 281.0,364.7 281.7,370.5 C282.5,376.3 283.0,382.8 282.6,388.9 C282.3,395.0 281.6,401.8 279.9,407.3 C278.2,412.8 275.9,418.3 272.5,422.0 C269.1,425.7 264.9,428.5 259.6,429.4 C254.4,430.3 246.8,428.5 241.2,427.6 C235.7,426.6 229.9,425.7 226.5,423.9 C223.1,422.0 223.4,418.5 221.0,416.5 C218.5,414.5 215.2,412.5 211.8,411.9 C208.4,411.3 203.8,411.8 200.7,412.8 C197.7,413.9 196.4,416.8 193.4,418.3 C190.3,419.9 186.6,422.0 182.3,422.0 C178.0,422.0 171.6,420.8 167.6,418.3 C163.6,415.9 160.9,411.0 158.4,407.3 C156.0,403.6 154.0,399.9 152.9,396.3 C151.8,392.6 151.8,389.5 152.0,385.2 Z" fill="url(#cm)"/>
<path d="M295.1,379.7 C295.1,374.2 296.5,367.9 298.8,363.1 C301.1,358.4 304.2,354.1 308.9,351.2 C313.7,348.3 319.1,346.4 327.3,345.6 C335.6,344.9 348.8,346.6 358.6,346.6 C368.4,346.6 378.3,344.6 386.2,345.6 C394.2,346.7 401.3,349.5 406.5,353.0 C411.7,356.5 415.2,361.8 417.5,366.8 C419.8,371.9 420.4,377.9 420.3,383.4 C420.1,388.9 419.2,395.2 416.6,399.9 C414.0,404.7 410.0,408.8 404.6,411.9 C399.3,415.0 391.1,417.1 384.4,418.3 C377.6,419.6 368.9,420.2 364.1,419.3 C359.4,418.3 358.6,412.8 355.9,412.8 C353.1,412.8 352.3,418.3 347.6,419.3 C342.8,420.2 333.8,420.0 327.3,418.3 C320.9,416.7 313.7,412.8 308.9,409.1 C304.2,405.5 301.1,401.2 298.8,396.3 C296.5,391.4 295.1,385.2 295.1,379.7 Z" fill="url(#cm)"/>
</g>
<ellipse cx="69" cy="350" rx="32" ry="3.500" fill="#cdbd7c" opacity="0.55" filter="url(#b2)"/>
<ellipse cx="355.500" cy="417.300" rx="4.6" ry="4.6" fill="#857438" filter="url(#b1)"/>
</g>
<text x="8.500" y="325.500" font-size="24.2" fill="#cc2029" stroke="#cc2029" stroke-width="0.35" textLength="38" lengthAdjust="spacingAndGlyphs">WT</text>
<text x="9.500" y="427.500" font-size="24.5" font-style="italic" fill="#cc2029" stroke="#cc2029" stroke-width="0.35" textLength="75" lengthAdjust="spacingAndGlyphs">ocd1-1</text>
</g>
<g id="chart1">
<g stroke="#1a1a1a" stroke-width="1.2" fill="none">
<path d="M465.2,181.2 H764.2"/>
<path d="M465.2,181.2 v8.6 M480.1,181.2 v5.2 M495.1,181.2 v5.2 M510.1,181.2 v5.2 M525.0,181.2 v5.2 M540.0,181.2 v8.6 M554.9,181.2 v5.2 M569.9,181.2 v5.2 M584.8,181.2 v5.2 M599.8,181.2 v5.2 M614.7,181.2 v8.6 M629.6,181.2 v5.2 M644.6,181.2 v5.2 M659.5,181.2 v5.2 M674.5,181.2 v5.2 M689.5,181.2 v8.6 M704.4,181.2 v5.2 M719.4,181.2 v5.2 M734.3,181.2 v5.2 M749.2,181.2 v5.2 M764.2,181.2 v8.6 "/>
<path d="M465.2,181.2 L510,160.3"/>
<path d="M510,160.3 V9.8 h-10"/>
<path d="M490.3,169.6 V18.4 h-11"/>
</g>
<g font-size="13" fill="#1a1a1a">
<text x="499.5" y="12.1" text-anchor="end">2.70E5</text>
<text x="479.4" y="25.8" text-anchor="end">1.50E8</text>
<text x="464.7" y="203.0" text-anchor="middle">3</text>
<text x="539.5" y="203.0" text-anchor="middle">4</text>
<text x="614.2" y="203.0" text-anchor="middle">5</text>
<text x="689.0" y="203.0" text-anchor="middle">6</text>
<text x="763.7" y="203.0" text-anchor="middle">7</text>
<text x="583.7" y="216.7" textLength="62.500" lengthAdjust="spacingAndGlyphs">Time (min)</text>
<text transform="translate(482.1,92.7) rotate(-90)" text-anchor="middle" fill="#3c3c3c" textLength="82.800" lengthAdjust="spacingAndGlyphs">Intensity (cps)</text>
</g>
<text x="575.8" y="49" font-size="15.2" fill="#222" textLength="77" lengthAdjust="spacingAndGlyphs">Oxalyl-CoA</text>
<text x="667.8" y="102.2" font-size="15.2" fill="#222" textLength="79.500" lengthAdjust="spacingAndGlyphs">Formyl-CoA</text>
<path d="M510.0,160.7 C557.79,160.70 629.28,160.70 629.48,160.70 C629.68,160.70 629.78,160.73 629.98,160.68 C630.17,160.63 630.32,160.54 630.53,160.43 C630.75,160.32 630.96,160.27 631.15,160.05 C631.35,159.83 632.10,158.72 632.70,157.95 C633.30,157.17 633.86,156.43 634.25,156.06 C634.65,155.68 635.10,155.50 635.43,155.38 C635.76,155.26 635.97,155.28 636.30,155.30 C636.63,155.32 636.80,155.33 637.11,155.46 C637.41,155.59 637.75,155.72 638.04,156.06 C638.32,156.39 638.68,157.25 639.21,157.95 C639.75,158.65 639.96,159.09 640.70,159.57 C641.44,160.04 642.10,160.17 643.00,160.37 C643.90,160.56 644.37,160.54 645.29,160.58 C646.21,160.62 648.45,160.69 650.56,160.70 C652.67,160.71 687.27,160.70 687.60,160.70 C687.93,160.70 688.22,160.77 688.40,160.49 C688.58,160.21 688.99,159.03 689.30,158.03 C689.61,157.03 690.08,155.82 690.30,154.29 C690.52,152.76 691.85,140.95 692.80,133.47 C693.75,125.98 694.83,117.51 695.30,114.78 C695.77,112.04 696.94,108.69 697.20,108.10 C697.46,107.51 697.98,107.12 698.60,107.30 C699.22,107.48 699.61,108.13 699.90,108.90 C700.19,109.67 701.07,112.37 701.40,114.78 C701.73,117.18 702.50,127.04 703.30,133.47 C704.10,139.90 704.84,146.10 705.70,149.49 C706.56,152.87 708.39,156.01 709.40,157.39 C710.41,158.76 711.45,159.08 713.10,159.53 C714.75,159.97 718.17,160.66 721.60,160.70 C725.03,160.74 775.54,160.70 811.50,160.70 " stroke="#1d2b78" stroke-width="2.2" fill="none" stroke-linejoin="round"/>
<path d="M490.3,170.5 C537.46,170.50 607.79,170.50 608.20,170.50 C608.61,170.50 609.02,170.43 609.10,170.03 C609.18,169.64 609.53,166.12 609.70,163.50 C609.87,160.88 610.32,153.00 610.70,145.99 C611.08,138.99 611.82,125.69 612.50,112.15 C613.18,98.61 613.64,85.79 614.10,78.31 C614.56,70.82 615.35,62.06 615.70,59.64 C616.05,57.21 615.16,53.80 617.60,53.80 C620.04,53.80 619.10,57.21 619.40,59.64 C619.70,62.06 620.19,70.83 620.60,78.31 C621.01,85.78 621.52,98.62 622.30,112.15 C623.08,125.68 624.05,140.82 624.50,145.99 C624.95,151.16 625.87,156.19 626.40,158.83 C626.93,161.47 627.44,163.43 628.40,165.25 C629.36,167.07 630.01,168.10 631.80,169.10 C633.59,170.10 635.34,170.48 637.80,170.50 C640.26,170.52 729.90,170.50 791.30,170.50 " stroke="#d6432d" stroke-width="2.1" fill="none" stroke-linejoin="round"/>
<text x="778" y="152" font-size="14.2" fill="#1a1a1a" textLength="34" lengthAdjust="spacingAndGlyphs">+ WT</text>
</g>
<g id="chart2">
<g stroke="#1a1a1a" stroke-width="1.2" fill="none">
<path d="M469.1,427.7 H768.9"/>
<path d="M469.1,427.7 v8.6 M484.1,427.7 v5.2 M499.1,427.7 v5.2 M514.1,427.7 v5.2 M529.1,427.7 v5.2 M544.1,427.7 v8.6 M559.0,427.7 v5.2 M574.0,427.7 v5.2 M589.0,427.7 v5.2 M604.0,427.7 v5.2 M619.0,427.7 v8.6 M634.0,427.7 v5.2 M649.0,427.7 v5.2 M664.0,427.7 v5.2 M679.0,427.7 v5.2 M694.0,427.7 v8.6 M708.9,427.7 v5.2 M723.9,427.7 v5.2 M738.9,427.7 v5.2 M753.9,427.7 v5.2 M768.9,427.7 v8.6 "/>
<path d="M469.1,427.7 L513.8,407"/>
<path d="M513.8,407 V256.7 h-10"/>
<path d="M492,416.8 V267.5 h-11"/>
</g>
<g font-size="13" fill="#1a1a1a">
<text x="503.29999999999995" y="259.0" text-anchor="end">2.70E5</text>
<text x="481.1" y="274.9" text-anchor="end">1.50E8</text>
<text x="468.6" y="449.5" text-anchor="middle">3</text>
<text x="543.6" y="449.5" text-anchor="middle">4</text>
<text x="618.5" y="449.5" text-anchor="middle">5</text>
<text x="693.5" y="449.5" text-anchor="middle">6</text>
<text x="768.4" y="449.5" text-anchor="middle">7</text>
<text x="586.2" y="461.7" textLength="62.500" lengthAdjust="spacingAndGlyphs">Time (min)</text>
<text transform="translate(482.1,337) rotate(-90)" text-anchor="middle" fill="#3c3c3c" textLength="82.800" lengthAdjust="spacingAndGlyphs">Intensity (cps)</text>
</g>
<text x="576.4" y="292.3" font-size="15.2" fill="#222" textLength="77" lengthAdjust="spacingAndGlyphs">Oxalyl-CoA</text>

<path d="M513.8,407.4 C563.16,407.40 636.94,407.40 637.20,407.40 C637.46,407.40 637.58,407.40 637.84,407.40 C638.10,407.39 638.27,407.37 638.56,407.35 C638.85,407.34 639.04,407.34 639.36,407.29 C639.68,407.25 640.56,407.07 641.36,406.94 C642.16,406.81 642.75,406.70 643.36,406.63 C643.97,406.55 644.43,406.53 644.88,406.51 C645.33,406.49 645.58,406.50 646.00,406.50 C646.42,406.50 646.62,406.50 647.04,406.53 C647.46,406.55 647.76,406.55 648.24,406.63 C648.72,406.70 649.15,406.84 649.76,406.94 C650.37,407.05 650.91,407.15 651.68,407.21 C652.45,407.27 653.46,407.31 654.64,407.34 C655.82,407.38 656.42,407.37 657.60,407.38 C658.78,407.39 661.68,407.40 664.40,407.40 C667.12,407.40 688.44,407.40 688.70,407.40 C688.96,407.40 689.08,407.41 689.34,407.40 C689.60,407.39 689.77,407.37 690.06,407.35 C690.35,407.33 690.54,407.33 690.86,407.28 C691.18,407.23 692.06,407.04 692.86,406.89 C693.66,406.74 694.26,406.62 694.86,406.54 C695.46,406.46 695.93,406.44 696.38,406.41 C696.83,406.39 697.08,406.40 697.50,406.40 C697.92,406.40 698.12,406.40 698.54,406.43 C698.96,406.46 699.26,406.46 699.74,406.54 C700.22,406.62 700.65,406.77 701.26,406.89 C701.87,407.01 702.41,407.12 703.18,407.19 C703.95,407.26 704.96,407.30 706.14,407.34 C707.32,407.38 707.92,407.37 709.10,407.38 C710.28,407.39 713.18,407.40 715.90,407.40 C718.62,407.40 775.36,407.40 815.00,407.40 " stroke="#1d2b78" stroke-width="2.2" fill="none" stroke-linejoin="round"/>
<path d="M492.0,417.7 C539.08,417.70 609.29,417.70 609.70,417.70 C610.11,417.70 610.52,417.62 610.60,417.22 C610.68,416.82 611.03,413.17 611.20,410.46 C611.37,407.75 611.82,399.60 612.20,392.35 C612.58,385.11 613.32,371.35 614.00,357.35 C614.68,343.35 615.14,330.08 615.60,322.35 C616.06,314.61 616.85,305.54 617.20,303.03 C617.55,300.53 616.58,297.00 619.10,297.00 C621.62,297.00 620.60,300.53 620.90,303.03 C621.20,305.54 621.69,314.62 622.10,322.35 C622.51,330.08 623.02,343.35 623.80,357.35 C624.58,371.35 625.55,387.01 626.00,392.35 C626.45,397.70 627.37,402.91 627.90,405.63 C628.43,408.35 628.95,410.40 629.90,412.27 C630.85,414.14 631.49,415.20 633.30,416.25 C635.11,417.30 636.83,417.68 639.30,417.70 C641.77,417.72 731.52,417.70 793.00,417.70 " stroke="#d6432d" stroke-width="2.1" fill="none" stroke-linejoin="round"/>
<text x="754.500" y="398.200" font-size="14.5" font-style="italic" fill="#1a1a1a" textLength="57" lengthAdjust="spacingAndGlyphs">+ ocd1-1</text>
</g><g id="diagram">
<text x="5.2" y="480.2" font-size="17" fill="#1a1a1a" textLength="63" lengthAdjust="spacingAndGlyphs" >Formate</text>
<path d="M73.0,475.8 L111.4,475.8" stroke="#111" stroke-width="1.5" fill="none"/>
<path d="M119.8,475.8 L107.8,478.9 L109.5,475.8 L107.8,472.7Z" fill="#111"/>
<text x="128" y="484.4" font-size="17" fill="#1a1a1a" textLength="34.8" lengthAdjust="spacingAndGlyphs" >CO2</text>
<path d="M17.3,534.0 L17.3,495.6" stroke="#111" stroke-width="2.0" fill="none"/>
<path d="M17.3,486.8 L20.6,499.3 L17.3,497.6 L14.0,499.3Z" fill="#111"/>
<circle cx="16" cy="548" r="9.8" fill="url(#gLb)"/>
<path d="M22.700,541.700 L29.500,537.400" stroke="#111" stroke-width="2"/>
<rect x="29" y="528.2" width="31.9" height="19.5" fill="#f5aa32" transform="rotate(-3 45.0 538.0)"/>
<text x="31.4" y="542.9" font-size="16.3" fill="#111" stroke="#111" stroke-width="0.3" textLength="32.4" lengthAdjust="spacingAndGlyphs">CoA</text>
<text x="66.5" y="528.2" font-size="16.6" fill="#1a1a1a" textLength="46" lengthAdjust="spacingAndGlyphs" >OCD1</text>
<path d="M116.0,538.9 L76.6,538.9" stroke="#111" stroke-width="2.2" fill="none"/>
<path d="M67.5,538.9 L80.5,535.2 L78.7,538.9 L80.5,542.6Z" fill="#111"/>
<rect x="128.1" y="506.1" width="31.9" height="19.6" fill="#f5aa32" transform="rotate(-3 144.1 515.9)"/>
<text x="130.6" y="521.5" font-size="16.3" fill="#111" stroke="#111" stroke-width="0.3" textLength="32.6" lengthAdjust="spacingAndGlyphs">CoA</text>
<path d="M144.300,525.500 L152.500,534.500" stroke="#111" stroke-width="2.2"/>
<circle cx="160.600" cy="541.700" r="13.4" fill="#2d9ddd"/>
<path d="M238.9,538.0 L199.4,538.0" stroke="#111" stroke-width="2.2" fill="none"/>
<path d="M190.3,538.0 L203.3,534.3 L201.5,538.0 L203.3,541.7Z" fill="#111"/>
<text x="215.3" y="526.4" font-size="15.8" fill="#1a1a1a" textLength="20.7" lengthAdjust="spacingAndGlyphs" >O7</text>
<text x="263.9" y="499.9" font-size="18.5" fill="#1a1a1a" textLength="28.9" lengthAdjust="spacingAndGlyphs" >WT</text>
<circle cx="261.9" cy="518.9" r="12.4" fill="url(#gOx)" stroke="#79741f" stroke-width="1.7"/>
<circle cx="295.7" cy="522.4" r="12.4" fill="url(#gOx)" stroke="#79741f" stroke-width="1.7"/>
<circle cx="277.8" cy="543" r="12.4" fill="url(#gOx)" stroke="#79741f" stroke-width="1.7"/>
<text x="330.2" y="516.6" font-size="19.4" fill="#1a1a1a" textLength="62.4" lengthAdjust="spacingAndGlyphs" >Normal</text>
<path d="M322.2,529.8 L391.2,529.8" stroke="#111" stroke-width="1.5" fill="none"/>
<path d="M400.3,529.8 L387.3,533.0 L389.1,529.8 L387.3,526.5Z" fill="#111"/>
<text x="422.4" y="531.6" font-size="17.3" fill="#1a1a1a" textLength="88.2" lengthAdjust="spacingAndGlyphs" >Metabolism</text>
<path d="M528.9,527.9 L579.3,527.9" stroke="#111" stroke-width="1.5" fill="none"/>
<path d="M588.4,527.9 L575.4,531.1 L577.2,527.9 L575.4,524.6Z" fill="#111"/>
<rect x="599.300" y="497.300" width="72.800" height="58.800" rx="31" ry="27" fill="#fff" stroke="#111" stroke-width="2.2"/>
<text x="611.9" y="523.9" font-size="17.6" fill="#1a1a1a" textLength="44.1" lengthAdjust="spacingAndGlyphs" >Zeins</text>
<text x="610.6" y="545" font-size="17.2" fill="#1a1a1a" textLength="49.4" lengthAdjust="spacingAndGlyphs" >Starch</text>
<path d="M678.7,527.9 L696.1,527.9" stroke="#111" stroke-width="1.5" fill="none"/>
<path d="M703.8,527.9 L692.8,530.9 L694.3,527.9 L692.8,524.9Z" fill="#111"/>
<path d="M99.400,590.300 C100,586 100.800,583 101.800,580.500 C103,577 104.500,574.500 106.700,572.700 C109,570.500 112,569 115.500,567.800 C119.500,566.500 124,565.700 129.300,565.200 C135,564.700 142,564.600 148.900,564.800 C155,565 162,565.500 168.500,566.400 C175,567.300 182,568.600 188.200,570.300 C195,572 202,574 207.800,576.600 C212,578.500 216,580.800 219.600,583.500 C222.800,586 225.300,588.500 227.400,591.300 C228.500,592.700 229.500,594 230.400,595.200" stroke="#111" stroke-width="2.1" stroke-dasharray="4.6 2.8" fill="none"/>
<path d="M221.500,596.300 H234.500" stroke="#111" stroke-width="1.5" stroke-dasharray="2.6 1.4" fill="none"/>
<text x="69.6" y="612.1" font-size="16.6" fill="#a9a9a9" textLength="45.6" lengthAdjust="spacingAndGlyphs" >OCD1</text>
<rect x="28.3" y="612.5" width="33.6" height="24.5" fill="#b5b5b5" transform="rotate(-2 45.1 624.8)"/>
<text x="31" y="629.9" font-size="16.3" fill="#8f8f8f" stroke="#8f8f8f" stroke-width="0.2" textLength="32" lengthAdjust="spacingAndGlyphs">CoA</text>
<circle cx="17.500" cy="636.500" r="9" fill="#b4b4b4"/>
<path d="M23.200,631.900 L29.500,627.800" stroke="#b0b0b0" stroke-width="2"/>
<path d="M116.0,624.9 L76.6,624.9" stroke="#b3b3b3" stroke-width="2.0" fill="none"/>
<path d="M67.5,624.9 L80.5,621.2 L78.7,624.9 L80.5,628.6Z" fill="#b3b3b3"/>
<path d="M86.600,632.200 l5.600,5.600 M92.200,632.200 l-5.600,5.600" stroke="#222" stroke-width="1.1"/>
<path d="M19.3,650.0 L19.3,687.0" stroke="#b3b3b3" stroke-width="1.6" fill="none"/>
<path d="M19.3,695.0 L16.3,683.5 L19.3,685.1 L22.3,683.5Z" fill="#b3b3b3"/>
<text x="4.6" y="709.3" font-size="17" fill="#ababab" textLength="63.7" lengthAdjust="spacingAndGlyphs" >Formate</text>
<path d="M74.7,704.0 L113.0,704.0" stroke="#b3b3b3" stroke-width="1.4" fill="none"/>
<path d="M121.0,704.0 L109.5,706.9 L111.1,704.0 L109.5,701.1Z" fill="#b3b3b3"/>
<text x="128" y="710.1" font-size="17" fill="#ababab" textLength="35" lengthAdjust="spacingAndGlyphs" >CO2</text>
<rect x="147.9" y="579.9" width="31.8" height="18.7" fill="#f5aa32" transform="rotate(-1.5 163.8 589.2)"/>
<text x="150.1" y="595.9" font-size="16.3" fill="#111" stroke="#111" stroke-width="0.3" textLength="32.9" lengthAdjust="spacingAndGlyphs">CoA</text>
<rect x="126" y="602.4" width="31.3" height="18.1" fill="#f5aa32" transform="rotate(-1.5 141.7 611.5)"/>
<text x="128.2" y="617.8" font-size="16.3" fill="#111" stroke="#111" stroke-width="0.3" textLength="32.3" lengthAdjust="spacingAndGlyphs">CoA</text>
<path d="M164.200,598.600 L171.500,606.800" stroke="#111" stroke-width="2"/>
<path d="M141.700,620.500 L149,629.200" stroke="#111" stroke-width="2"/>
<circle cx="180.100" cy="615" r="13.1" fill="#2d9ddd"/>
<circle cx="157.800" cy="637.500" r="13.1" fill="#2d9ddd"/>
<path d="M243.3,624.7 L203.7,624.7" stroke="#111" stroke-width="2.2" fill="none"/>
<path d="M194.6,624.7 L207.6,621.0 L205.8,624.7 L207.6,628.4Z" fill="#111"/>
<text x="217.7" y="615.5" font-size="15.8" fill="#1a1a1a" textLength="21.2" lengthAdjust="spacingAndGlyphs" >O7</text>
<circle cx="280.1" cy="626.3" r="12.4" fill="url(#gOx)" stroke="#79741f" stroke-width="1.7"/>
<circle cx="263.9" cy="602.7" r="12.4" fill="url(#gOx)" stroke="#79741f" stroke-width="1.7"/>
<circle cx="297.8" cy="604.8" r="12.4" fill="url(#gOx)" stroke="#79741f" stroke-width="1.7"/>
<circle cx="261" cy="624.2" r="12.4" fill="url(#gOx)" stroke="#79741f" stroke-width="1.7"/>
<circle cx="296.3" cy="626.3" r="12.4" fill="url(#gOx)" stroke="#79741f" stroke-width="1.7"/>
<circle cx="277.8" cy="648.3" r="12.4" fill="url(#gOx)" stroke="#79741f" stroke-width="1.7"/>
<text x="261" y="675.5" font-size="18.3" fill="#1a1a1a" textLength="39.7" lengthAdjust="spacingAndGlyphs" font-style="italic">ocd1</text>
<text x="318.4" y="614.6" font-size="19.4" fill="#1a1a1a" textLength="83" lengthAdjust="spacingAndGlyphs" >Abnormal</text>
<path d="M328.1,624.8 L388.2,624.8" stroke="#111" stroke-width="1.5" fill="none"/>
<path d="M397.3,624.8 L384.3,628.0 L386.1,624.8 L384.3,621.5Z" fill="#111"/>
<text x="355.6" y="648.4" font-size="15" fill="#1a1a1a" >?</text>
<path d="M403,624.600 H408.500 M417,588.700 H411.500 Q408.500,588.700 408.500,591.700 V654 Q408.500,657 411.500,657 H417" stroke="#111" stroke-width="2.1" fill="none"/>
<text x="422.4" y="601.9" font-size="17.3" fill="#1a1a1a" textLength="88.2" lengthAdjust="spacingAndGlyphs" >Metabolism</text>
<text x="420.4" y="660" font-size="17.3" fill="#1a1a1a" textLength="121.4" lengthAdjust="spacingAndGlyphs" >Other pathways</text>
<path d="M517.500,598.300 L593.600,612.500 M594.200,604 V621.500" stroke="#111" stroke-width="2.1" fill="none"/>
<rect x="600.400" y="592.300" width="74.800" height="52.600" rx="30" ry="25" fill="#fff" stroke="#111" stroke-width="2.2"/>
<text x="614.7" y="615.4" font-size="17.6" fill="#1a1a1a" textLength="43.3" lengthAdjust="spacingAndGlyphs" >Zeins</text>
<text x="612.7" y="636.9" font-size="17.2" fill="#1a1a1a" textLength="49.3" lengthAdjust="spacingAndGlyphs" >Starch</text>
<path d="M679.5,612.5 L696.1,612.5" stroke="#111" stroke-width="1.5" fill="none"/>
<path d="M703.8,612.5 L692.8,615.5 L694.3,612.5 L692.8,609.5Z" fill="#111"/>
<path d="M517.500,607.200 C570,628 625,665 672,667.500 C686,668 692,664 696,659.500" stroke="#111" stroke-width="2.4" fill="none"/>
<path d="M704.500,654.500 L692.500,658.200 L696,660.800 L697.200,666.200Z" fill="#111"/>
<path d="M544.700,658.300 C600,663 650,672 694,677" stroke="#111" stroke-width="1.5" fill="none"/>
<path d="M702.500,678.200 L690.500,673.600 L693,677 L689.500,680.200Z" fill="#111"/>
<text x="592.5" y="686.3" font-size="15" fill="#1a1a1a" >?</text>
<circle cx="230.6" cy="707.2" r="12" fill="url(#gOx)" stroke="#79741f" stroke-width="1.7"/>
<text x="250.7" y="712.6" font-size="17.1" fill="#1a1a1a" textLength="58.9" lengthAdjust="spacingAndGlyphs" >Oxalate</text>
<circle cx="362.600" cy="708.700" r="13.200" fill="#2d9ddd"/>
<text x="383.2" y="712.6" font-size="17.1" fill="#1a1a1a" textLength="53.4" lengthAdjust="spacingAndGlyphs" >Oxalyl-</text>
<circle cx="469.800" cy="695.500" r="10" fill="url(#gLb)"/>
<circle cx="471.800" cy="717.800" r="10" fill="#b4b4b4"/>
<text x="485.1" y="714.6" font-size="17.1" fill="#1a1a1a" textLength="57.9" lengthAdjust="spacingAndGlyphs" >Formyl-</text>
</g>
<defs>
<linearGradient id="vit" gradientUnits="userSpaceOnUse" x1="722" y1="0" x2="780" y2="0"><stop offset="0" stop-color="#7c7226"/><stop offset="0.3" stop-color="#938630"/><stop offset="0.5" stop-color="#6a5420"/><stop offset="0.64" stop-color="#4a3412"/><stop offset="0.82" stop-color="#35220c"/><stop offset="1" stop-color="#1e1206"/></linearGradient>
<linearGradient id="streak" x1="0" y1="0" x2="0" y2="1"><stop offset="0" stop-color="#fffff0"/><stop offset="0.18" stop-color="#f6f6b8"/><stop offset="0.55" stop-color="#d2cc68"/><stop offset="0.85" stop-color="#e6e08a"/><stop offset="1" stop-color="#fffff0"/></linearGradient>
<linearGradient id="opq" gradientUnits="userSpaceOnUse" x1="722" y1="640" x2="765" y2="620"><stop offset="0" stop-color="#6e521a"/><stop offset="0.55" stop-color="#8a7222"/><stop offset="1" stop-color="#ab953e"/></linearGradient>
<clipPath id="clV"><rect x="708.600" y="466" width="99.800" height="124.800"/></clipPath>
</defs>
<g id="photos">
<rect x="708.600" y="466" width="99.800" height="124.800" fill="#050505"/>
<g clip-path="url(#clV)">
<path d="M723.2,478.4 C724.1,474.9 725.6,473.0 728.7,471.1 C731.8,469.2 736.2,467.8 741.5,467.1 C746.8,466.4 751.3,466.4 756.0,467.5 C760.8,468.6 763.5,469.5 767.0,472.9 C770.4,476.4 772.1,480.3 774.3,485.7 C776.5,491.1 777.8,495.4 778.8,502.1 C779.9,508.8 780.1,513.7 779.7,520.3 C779.4,527.0 778.8,530.6 777.0,536.7 C775.2,542.8 773.3,546.1 770.6,551.3 C768.0,556.6 765.6,559.8 763.3,564.1 C761.0,568.4 759.9,570.5 757.9,575.0 C755.9,579.5 753.9,586.0 752.8,587.8 C751.6,589.5 749.2,591.2 747.8,589.6 C746.5,588.0 746.3,583.0 745.1,578.7 C743.9,574.3 742.4,569.9 740.5,564.1 C738.7,558.3 737.2,554.3 735.1,547.7 C733.0,541.1 731.5,536.7 729.6,529.4 C727.7,522.2 726.7,517.7 725.4,511.2 C724.1,504.7 723.3,501.4 722.9,494.8 C722.4,488.3 722.4,481.9 723.2,478.4 Z" fill="url(#vit)" filter="url(#b1)"/>
<path d="M736.9,516.7 C737.7,513.9 742.5,514.3 744.2,516.7 C745.9,519.1 747.7,527.7 749.7,534.9 C751.7,542.2 753.3,548.8 754.2,553.1 C755.2,557.5 756.5,561.3 756.0,564.1 C755.6,566.9 754.3,569.5 751.5,569.5 C748.6,569.5 747.3,566.9 746.0,564.1 C744.7,561.3 743.8,555.3 742.4,549.5 C740.9,543.7 739.7,540.8 738.7,534.9 C737.7,529.0 736.1,519.5 736.9,516.7 Z" fill="#b5a54c" filter="url(#b2)" opacity="0.9"/>
<path d="M732.3,470.2 C736.9,467.0 752.1,465.8 757.0,468.4 C761.8,470.9 756.0,476.6 755.1,482.1 C754.2,487.5 752.5,491.8 752.0,498.5 C751.6,505.1 751.8,509.5 752.8,516.7 C753.7,523.9 755.6,529.1 757.0,534.9 C758.3,540.8 760.1,545.1 760.6,549.5 C761.1,553.9 760.1,558.7 759.7,560.4 C759.2,562.2 758.0,565.5 757.0,564.1 C755.9,562.6 755.3,557.5 754.2,553.1 C753.1,548.8 751.7,542.2 749.7,534.9 C747.7,527.7 746.2,523.9 744.2,516.7 C742.2,509.4 741.3,504.3 739.6,498.5 C738.0,492.6 736.5,489.3 735.1,483.9 C733.7,478.5 727.8,473.4 732.3,470.2 Z" fill="url(#streak)" filter="url(#b1)"/>
<ellipse cx="753.3" cy="570.5" rx="4" ry="3.500" fill="#140c04" filter="url(#b1)"/>
</g>
<text x="713.9" y="587.2" font-size="17.2" fill="#fff" textLength="63" lengthAdjust="spacingAndGlyphs" >Vitreous</text>
<path d="M783,588 H806" stroke="#8a1814" stroke-width="0.7"/>
<rect x="708.700" y="595.500" width="100.200" height="124.800" fill="#050505"/>
<path d="M718.9,617.7 C719.5,615.1 722.7,615.6 725.3,615.9 C728.0,616.2 732.4,617.1 736.4,619.6 C740.4,622.0 743.0,625.0 746.6,628.8 C750.2,632.6 752.2,634.8 754.9,639.0 C757.6,643.1 758.8,645.4 760.4,650.1 C762.1,654.7 762.9,658.8 763.8,663.9 C764.7,669.0 764.5,674.9 765.1,676.9 C765.7,678.9 767.6,678.8 768.8,680.6 C770.0,682.3 771.4,683.6 771.5,686.1 C771.7,688.6 771.5,694.0 769.7,697.2 C767.9,700.4 764.7,701.5 762.3,702.7 C759.9,704.0 758.2,705.8 755.8,704.6 C753.4,703.4 752.5,700.4 751.2,697.2 C749.9,694.0 748.6,688.3 746.6,682.4 C744.6,676.5 743.3,673.5 741.0,667.6 C738.8,661.7 737.9,658.7 735.5,652.8 C733.1,647.0 731.3,642.6 729.0,638.1 C726.7,633.5 724.3,630.5 722.6,627.0 C720.8,623.4 718.2,620.3 718.9,617.7 Z" fill="url(#opq)" filter="url(#b1)"/>
<path d="M718.9,614.0 C717.9,611.8 719.5,609.8 721.6,608.5 C723.8,607.2 729.0,605.9 732.7,605.7 C736.5,605.5 738.7,605.8 742.0,607.6 C745.2,609.3 746.1,613.6 748.4,614.0 C750.8,614.4 750.2,610.8 752.1,609.4 C754.1,608.1 756.9,605.9 760.4,605.7 C763.9,605.5 766.2,606.1 768.8,608.5 C771.3,610.9 772.7,613.6 773.4,617.7 C774.1,621.8 772.9,626.9 772.5,630.7 C772.0,634.4 770.2,636.1 770.6,639.9 C771.0,643.6 773.5,645.2 774.3,649.1 C775.1,653.0 775.6,657.5 775.2,662.1 C774.9,666.6 773.5,670.0 772.5,673.2 C771.4,676.3 770.9,679.6 768.8,680.6 C766.6,681.5 764.9,679.1 764.1,676.9 C763.4,674.6 763.9,669.1 763.2,663.9 C762.5,658.8 762.1,655.7 760.4,651.0 C758.8,646.3 757.6,644.1 754.9,639.9 C752.2,635.7 750.2,633.5 746.6,629.7 C743.0,625.9 740.4,622.9 736.4,620.5 C732.4,618.1 728.0,617.8 725.3,616.8 C722.7,615.8 719.9,616.3 718.9,614.0 Z" fill="#fcfcfc" filter="url(#b1)"/>
<path d="M756.7,689.8 C757.9,686.7 761.8,686.1 764.1,686.1 C766.5,686.1 768.4,687.5 768.8,689.8 C769.1,692.1 768.0,696.8 766.0,699.0 C763.9,701.3 760.7,703.0 758.6,700.9 C756.4,698.7 755.6,692.9 756.7,689.8 Z" fill="#120c04" filter="url(#b1)"/>
<text x="713.9" y="713.3" font-size="17.3" fill="#fff" textLength="61.6" lengthAdjust="spacingAndGlyphs" >Opaque</text>
<path d="M783,717.300 H806.500" stroke="#8a1814" stroke-width="0.7"/>
</g>
</svg></body></html>
